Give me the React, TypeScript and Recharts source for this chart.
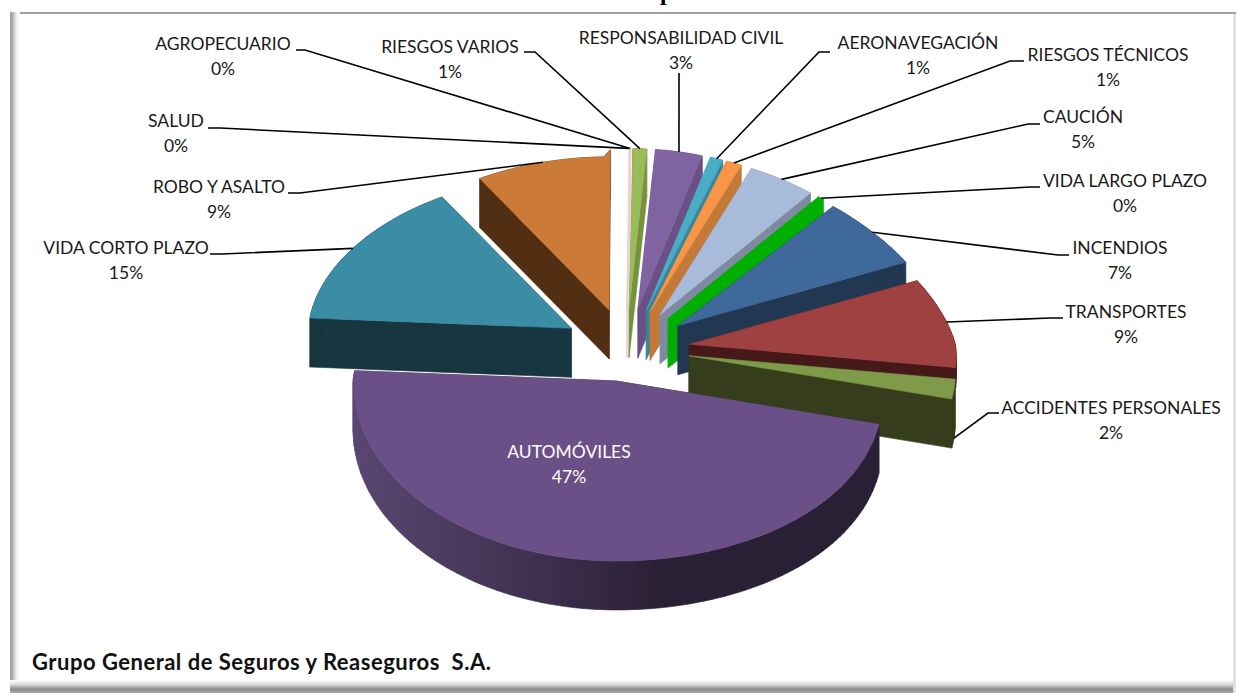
import React from 'react';
import { PieChart, Pie } from 'recharts';

// clockwise from the top, as the slices sit in the picture
const categories = [
  'RIESGOS VARIOS', 'RESPONSABILIDAD CIVIL', 'AERONAVEGACIÓN', 'RIESGOS TÉCNICOS', 'CAUCIÓN',
  'VIDA LARGO PLAZO', 'INCENDIOS', 'TRANSPORTES', 'ACCIDENTES PERSONALES', 'AUTOMÓVILES',
  'VIDA CORTO PLAZO', 'ROBO Y ASALTO', 'SALUD', 'AGROPECUARIO',
];
const shares = [1.0, 3.4, 0.9, 1.1, 4.6, 0.4, 6.9, 8.6, 1.8, 47.4, 15.4, 8.7, 0.1, 0.1];

const topColors = [
  '#9BBB59', '#8064A2', '#4BACC6', '#F79646', '#A9BBDB', '#00B000', '#3F689B',
  '#9E4140', '#7F9A48', '#6B5087', '#3B8DA5', '#CC7A37', '#FCF6F6', '#EBCFCF',
];
const sideColors = [
  '#76923C', '#6A5085', '#36869B', '#C47A37', '#7D8AA1', '#00B000', '#213752',
  '#451918', '#353D1C', 'url(#autoSide)', '#17363F', '#522F13', '#FCF6F6', '#EBCFCF',
];

// where each label sits and how its leader leaves it (centre x, first line y, line start, elbow)
const labelSpots = [
  { x: 450, y: 47, from: [524, 52], elbow: [535, 52] },
  { x: 681, y: 38, from: [679, 73], elbow: [679, 100] },
  { x: 918, y: 43, from: [830, 52], elbow: [819, 52] },
  { x: 1108, y: 55, from: [1024, 61], elbow: [1010, 61] },
  { x: 1083, y: 117, from: [1040, 124], elbow: [1028, 124] },
  { x: 1125, y: 181, from: [1040, 187], elbow: [1031, 187] },
  { x: 1120, y: 248, from: [1069, 255], elbow: [1058, 255] },
  { x: 1126, y: 312, from: [1063, 318], elbow: [1050, 318] },
  { x: 1111, y: 408, from: [999, 413], elbow: [988, 413] },
  { x: 569, y: 452 },
  { x: 126, y: 248, from: [210, 254], elbow: [222, 254] },
  { x: 219, y: 187, from: [288, 193], elbow: [300, 193] },
  { x: 176, y: 121, from: [208, 128], elbow: [220, 128] },
  { x: 223, y: 44, from: [296, 50], elbow: [305, 50] },
];

const pieData = categories.map((name, i) => ({ name, value: shares[i], color: topColors[i] }));

const WIDTH = 1236;
const HEIGHT = 693;
const RADIUS = 266;
const DEPTH = 49;
const EXPLODE = 64;

const rad = (deg: number) => (deg * Math.PI) / 180;

// apex of a slice once it is pulled away from the pie centre
const apexOf = (cx: number, cy: number, mid: number) => {
  const u = Math.cos(rad(mid));
  const v = Math.sin(rad(mid));
  return [cx + EXPLODE * u, cy - EXPLODE * v * (v > 0 ? 0.65 : 0.49)];
};

// point on the tilted rim; perspective makes the back of the pie narrower and flatter
const rimPoint = (apex: number[], r: number, angle: number) => {
  const u = Math.cos(rad(angle));
  const v = Math.sin(rad(angle));
  let rx = u > 0 ? r : r - 3;
  let ry = 180;
  if (v > 0) {
    rx = u > 0 ? r - 45 * v : r - 3 - 13 * v;
    ry = u > 0 ? 160 : 153;
  } else if (u > 0) {
    rx = r - 20 * v;
  }
  return [apex[0] + rx * u, apex[1] - ry * v];
};

const toPath = (pts: number[][]) =>
  pts.map((p, i) => `${i ? 'L' : 'M'}${p[0].toFixed(1)} ${p[1].toFixed(1)}`).join(' ') + ' Z';

const Slice3D = (props: any) => {
  const { cx, cy, outerRadius, startAngle, endAngle, midAngle, index, name } = props;
  const apex = apexOf(cx, cy, midAngle);
  const steps = Math.max(2, Math.ceil(Math.abs(endAngle - startAngle) / 1.5));
  const outline = [apex];
  for (let s = 0; s <= steps; s++) {
    outline.push(rimPoint(apex, outerRadius, startAngle + ((endAngle - startAngle) * s) / steps));
  }

  // the wall of transportes is hidden by the next slice, keep it from poking out behind it
  const depth = name === 'TRANSPORTES' ? 20 : DEPTH;

  // sweep every edge of the top face straight down to make the walls
  const walls = outline.map((p, i) => {
    const q = outline[(i + 1) % outline.length];
    const quad = [p, q, [q[0], q[1] + depth], [p[0], p[1] + depth]];
    return toPath(q[0] >= p[0] ? quad : [...quad].reverse());
  });
  const side = sideColors[index];
  const top = topColors[index];

  return (
    <g>
      <defs>
        <linearGradient id="autoSide" gradientUnits="userSpaceOnUse" x1="350" y1="0" x2="660" y2="0">
          <stop offset="0%" stopColor="#5A4772" />
          <stop offset="60%" stopColor="#3F304F" />
          <stop offset="100%" stopColor="#2A2035" />
        </linearGradient>
      </defs>
      <path d={walls.join(' ')} fill={side} stroke={side} strokeWidth={0.6} />
      <path d={toPath(outline)} fill={top} stroke={top} strokeWidth={0.6} />
    </g>
  );
};

const renderLabel = (props: any) => {
  const { cx, cy, outerRadius, midAngle, index, percent, name } = props;
  const spot = labelSpots[index];
  const inside = !spot.from;
  const apex = apexOf(cx, cy, midAngle);
  let end = rimPoint(apex, outerRadius, midAngle);
  if (name === 'ACCIDENTES PERSONALES') end = [end[0], end[1] + DEPTH];
  const pct = `${Math.round(percent * 100)}%`;
  const color = inside ? '#FFFFFF' : '#1A1A1A';
  return (
    <g>
      {!inside && (
        <polyline
          points={[spot.from, spot.elbow, end].map(p => p.join(',')).join(' ')}
          fill="none"
          stroke="#000000"
          strokeWidth={1.6}
        />
      )}
      <g fontFamily="Lato, sans-serif" fontSize={17.5} fill={color} textAnchor="middle">
        <text x={spot.x} y={spot.y + 6}>{name}</text>
        <text x={spot.x} y={spot.y + 31}>{pct}</text>
      </g>
    </g>
  );
};

const App: React.FC = () => {
  return (
    <div style={{ position: 'absolute', left: 0, top: 0, width: WIDTH, height: HEIGHT, background: '#fff', overflow: 'hidden' }}>
      {/* frame of the pasted picture */}
      <div style={{ position: 'absolute', left: 10, top: 12, width: WIDTH - 10, height: 2, background: '#A0A0A0' }} />
      <div style={{ position: 'absolute', left: 10, top: 12, width: 10, height: HEIGHT - 12, background: 'linear-gradient(to right, #9A9A9A 0%, #B4B4B4 30%, #EDEDED 60%, #FFFFFF 100%)' }} />
      <div style={{ position: 'absolute', left: 10, top: 680, width: WIDTH - 10, height: 13, background: 'linear-gradient(to bottom, #FFFFFF 0%, #DADADA 35%, #8C8C8C 70%, #A8A8A8 100%)' }} />
      <div style={{ position: 'absolute', left: WIDTH - 3, top: 14, width: 3, height: HEIGHT - 14, background: '#E2E2E2' }} />

      <div style={{ position: 'absolute', left: 660, top: -21, fontFamily: '"Liberation Serif", serif', fontWeight: 700, fontSize: 24, lineHeight: '26px', color: '#000' }}>p</div>

      <PieChart width={WIDTH} height={HEIGHT} margin={{ top: 0, right: 0, bottom: 0, left: 0 }} style={{ position: 'absolute', left: 0, top: 0 }}>
        <Pie
          data={pieData}
          dataKey="value"
          nameKey="name"
          cx={626}
          cy={350}
          outerRadius={RADIUS}
          startAngle={89}
          endAngle={-271}
          stroke="none"
          shape={Slice3D}
          label={renderLabel}
          labelLine={false}
          isAnimationActive={false}
        />
      </PieChart>

      <div style={{ position: 'absolute', left: 32, top: 649, fontFamily: 'Lato, sans-serif', fontWeight: 700, fontSize: 22, letterSpacing: 0.5, lineHeight: '26px', color: '#111', whiteSpace: 'pre' }}>
        Grupo General de Seguros y Reaseguros  S.A.
      </div>
    </div>
  );
};

export default App;
